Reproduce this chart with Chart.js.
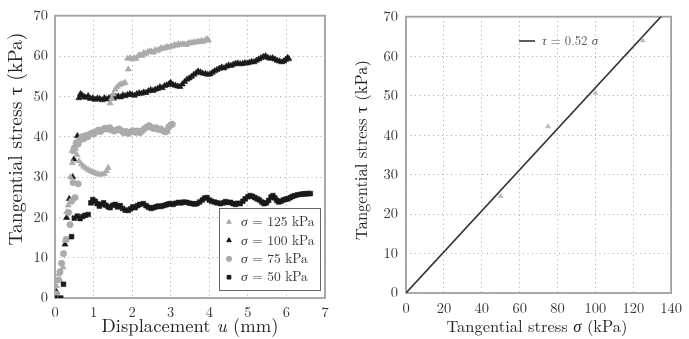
<!DOCTYPE html>
<html><head><meta charset="utf-8">
<script src="https://cdn.jsdelivr.net/npm/chart.js@4.4.0/dist/chart.umd.min.js"></script>
<style>html,body{margin:0;padding:0;background:#fff;width:689px;height:339px;overflow:hidden}
canvas{position:absolute;top:0}</style></head><body>
<canvas id="c1" width="345" height="339" style="left:0"></canvas>
<canvas id="c2" width="344" height="339" style="left:345px"></canvas>
<script>
// ---------------- DATA (left: tangential stress vs displacement) ----------------
const xTicksLeft = [0,1,2,3,4,5,6,7];
const yTicks = [0,10,20,30,40,50,60,70];
const xTicksRight = [0,20,40,60,80,100,120,140];

const s125 = [[0.0,0.3],[0.04,3],[0.1,6],[0.13,4.5],[0.21,7.6],[0.26,14.3],[0.3,21.3],[0.34,23],[0.4,30],[0.45,33.5],[0.44,36.5],[0.49,36.2],[0.53,37],[0.57,35.5],[0.62,34],[0.68,33.2],[0.74,32.6],[0.8,32.2],[0.86,31.8],[0.92,31.5],[0.98,31.2],[1.04,31],[1.1,30.8],[1.16,30.6],[1.22,30.7],[1.28,30.8],[1.34,31.5],[1.38,32.3],[1.43,48.3],[1.47,49.5],[1.51,50.5],[1.56,51.7],[1.61,52.3],[1.66,52.8],[1.71,53],[1.77,53.2],[1.82,53.4],[1.9,56.7],[1.88,59.4],[1.95,59.5],[2.0,59.2],[2.05,59.5],[2.1,59.3],[2.15,60],[2.2,60.3],[2.25,60.1],[2.3,60.8],[2.35,60.5],[2.4,61],[2.45,61.1],[2.5,61.2],[2.55,60.9],[2.6,61.5],[2.65,61.3],[2.7,61.6],[2.75,62.0],[2.8,61.8],[2.85,62.0],[2.9,62.3],[2.95,62.1],[3.0,62.4],[3.05,62.4],[3.1,62.8],[3.15,62.6],[3.2,63.0],[3.25,62.8],[3.3,63.0],[3.35,62.9],[3.4,62.8],[3.45,63.1],[3.5,63.3],[3.55,63.2],[3.6,63.4],[3.65,63.4],[3.7,63.6],[3.75,63.5],[3.8,63.8],[3.85,63.6],[3.9,64.0],[3.95,64.2],[3.98,63.9]];

const s100 = [[0.0,0.5],[0.04,1.5],[0.26,13.3],[0.3,19.9],[0.37,24.6],[0.46,30],[0.49,34.4],[0.58,40.2],[0.62,49.6],[0.66,50.6],[0.7,50.3],[0.75,49.9],[0.8,49.7],[0.86,50.1],[0.92,49.4],[0.98,49.6],[1.04,49.2],[1.1,49.5],[1.16,49.4],[1.22,49.1],[1.28,49.6],[1.34,49.3],[1.4,49.6],[1.46,49.8],[1.52,49.5],[1.58,49.9],[1.64,50.0],[1.7,49.8],[1.76,50.3],[1.82,50.1],[1.88,50.4],[1.94,50.6],[2.0,50.4],[2.06,50.2],[2.12,50.6],[2.18,50.8],[2.24,50.7],[2.3,51.0],[2.36,50.9],[2.42,51.3],[2.48,51.6],[2.54,51.4],[2.6,51.7],[2.66,51.9],[2.72,52.3],[2.78,52.1],[2.84,52.6],[2.9,52.8],[2.96,53.1],[3.0,53.4],[3.06,52.9],[3.12,52.7],[3.18,52.5],[3.24,52.4],[3.3,53.0],[3.36,53.6],[3.42,54.2],[3.48,54.5],[3.54,54.9],[3.6,55.4],[3.66,55.8],[3.71,56.2],[3.77,56.0],[3.83,55.7],[3.9,55.6],[3.96,55.4],[4.02,55.5],[4.08,55.9],[4.14,56.3],[4.2,56.6],[4.26,56.9],[4.32,57.2],[4.38,57.0],[4.44,57.4],[4.5,57.7],[4.56,57.6],[4.62,57.9],[4.68,58.1],[4.74,58.2],[4.8,58.0],[4.86,58.1],[4.92,58.3],[4.98,58.2],[5.04,58.4],[5.1,58.6],[5.16,58.5],[5.22,58.9],[5.28,59.2],[5.34,59.5],[5.4,59.8],[5.46,60.0],[5.52,59.6],[5.58,59.4],[5.64,59.5],[5.7,59.2],[5.76,58.9],[5.82,58.7],[5.88,58.5],[5.93,58.7],[5.98,59.1],[6.03,59.6],[6.06,59.3]];

const s75 = [[0.02,1],[0.08,4.5],[0.13,6.5],[0.17,8.6],[0.22,11],[0.29,14.5],[0.35,21.2],[0.39,18.2],[0.43,24],[0.47,28.6],[0.52,24.9],[0.6,28.3],[0.5,37.2],[0.55,38.5],[0.6,38.2],[0.65,39.2],[0.7,40.0],[0.75,39.5],[0.8,40.3],[0.85,40.0],[0.9,40.6],[0.96,40.9],[1.0,40.7],[1.06,41.2],[1.12,41.6],[1.18,41.3],[1.24,41.8],[1.3,42.1],[1.36,41.9],[1.42,42.2],[1.48,41.6],[1.54,41.4],[1.6,41.7],[1.66,41.9],[1.72,41.5],[1.78,41.0],[1.84,41.3],[1.9,40.8],[1.96,41.2],[2.02,41.5],[2.08,41.1],[2.14,41.4],[2.2,41.0],[2.26,41.5],[2.32,42.0],[2.38,42.4],[2.44,42.7],[2.5,42.3],[2.56,42.0],[2.62,42.2],[2.68,41.8],[2.74,41.9],[2.8,41.5],[2.86,41.2],[2.9,41.4],[2.95,42.4],[3.0,42.9],[3.04,43.1]];

const s50 = [[0.0,0],[0.15,0],[0.22,3.4],[0.43,15.2],[0.5,19.8],[0.58,20.3],[0.65,19.7],[0.72,20.2],[0.78,20.5],[0.86,20.7],[0.93,23.6],[0.98,24.4],[1.04,24],[1.09,23.4],[1.15,22.8],[1.2,23.2],[1.26,23.6],[1.32,23],[1.38,22.6],[1.43,22.4],[1.5,23],[1.56,23.2],[1.62,22.6],[1.69,22.9],[1.75,22.2],[1.82,21.8],[1.9,21.7],[1.96,22.1],[2.02,22.6],[2.08,22.4],[2.14,22.9],[2.2,23.2],[2.29,23.4],[2.36,22.9],[2.42,22.5],[2.49,22.2],[2.55,22.4],[2.62,22.6],[2.68,22.8],[2.75,22.7],[2.81,22.9],[2.88,23.1],[2.94,23.3],[2.99,23.4],[3.06,23.2],[3.13,23.5],[3.2,23.7],[3.27,23.6],[3.34,23.8],[3.42,23.7],[3.49,23.5],[3.56,23.4],[3.62,23.3],[3.68,23.4],[3.75,23.8],[3.82,24.3],[3.88,24.8],[3.94,24.9],[4.0,24.3],[4.06,24.0],[4.13,23.8],[4.2,23.6],[4.29,23.4],[4.36,23.6],[4.42,23.9],[4.49,23.7],[4.55,23.7],[4.62,23.4],[4.68,23.2],[4.74,23.5],[4.8,23.4],[4.87,24],[4.93,24.6],[5.0,25.1],[5.06,25.4],[5.12,25.2],[5.18,24.9],[5.24,24.6],[5.3,24.3],[5.36,23.8],[5.42,23.4],[5.48,23.6],[5.54,24.2],[5.6,25],[5.65,25.4],[5.7,24.8],[5.75,24.2],[5.8,23.8],[5.86,24.0],[5.92,24.3],[5.98,24.5],[6.04,24.6],[6.1,24.9],[6.16,25.2],[6.22,25.4],[6.29,25.6],[6.36,25.7],[6.43,25.8],[6.5,25.8],[6.56,25.9],[6.62,25.9]];

// ---------------- DATA (right: peak stress vs normal stress) ----------------
const normalStress = [50, 75, 100, 125];
const peakStress = [24.5, 42.2, 50.7, 64.0];
const fitSlope = 0.52;
const fitRange = [0, 140];

// ---------------- STYLE ----------------
const FONT = '"Latin Modern Roman", "Liberation Serif", serif';
const GRAY = '#ababab', BLACK = '#1a1a1a';
const toPts = a => a.map(p => ({x: p[0], y: p[1]}));

function drawRich(ctx, parts, x, y, opt) {
  const fam = FONT;
  let size = opt.size;
  const measure = s => parts.reduce((w, p) => { ctx.font = (p.it ? 'italic ' : '') + s + 'px ' + fam; return w + ctx.measureText(p.t).width; }, 0);
  if (opt.width) size = opt.size * opt.width / measure(opt.size);
  const w = measure(size);
  ctx.save();
  ctx.translate(x, y);
  if (opt.rotate) ctx.rotate(-Math.PI / 2);
  ctx.textBaseline = 'middle'; ctx.textAlign = 'left';
  ctx.fillStyle = opt.color || '#222';
  let cx = opt.align === 'left' ? 0 : -w / 2;
  for (const p of parts) {
    ctx.font = (p.it ? 'italic ' : '') + size + 'px ' + fam;
    ctx.fillText(p.t, cx, 0);
    cx += ctx.measureText(p.t).width;
  }
  ctx.restore();
}

function framePlugin(color) {
  return { id: 'frame', beforeDatasetsDraw(chart) {
    const a = chart.chartArea, ctx = chart.ctx;
    ctx.save(); ctx.strokeStyle = color; ctx.lineWidth = 1.8;
    ctx.strokeRect(a.left, a.top, a.right - a.left, a.bottom - a.top);
    ctx.restore();
  }};
}

function axisCfg(min, max, step, ticks, fitSize, isY, pad) {
  return {
    type: 'linear', min, max,
    afterBuildTicks: s => { s.ticks = ticks.map(v => ({value: v})); },
    afterFit: s => { if (isY) s.width = fitSize; else s.height = fitSize; },
    ticks: { stepSize: step, color: '#333', font: {family: FONT, size: 14.5}, padding: pad, maxRotation: 0 },
    grid: { color: '#a8a8a8', lineWidth: 1, drawTicks: false },
    border: { display: false, dash: [1, 3.5] },
    title: { display: false }
  };
}

// ---------------- LEFT CHART ----------------
const legendLeft = [
  {label: ' = 125 kPa', style: 'triangle', color: GRAY},
  {label: ' = 100 kPa', style: 'triangle', color: BLACK},
  {label: ' = 75 kPa', style: 'circle', color: GRAY},
  {label: ' = 50 kPa', style: 'rect', color: BLACK}
];

const leftText = { id: 'leftText', afterDraw(chart) {
  const ctx = chart.ctx, a = chart.chartArea;
  drawRich(ctx, [{t: 'Displacement '}, {t: 'u', it: true}, {t: ' (mm)'}], (a.left + a.right) / 2, 326, {size: 17, width: 177});
  drawRich(ctx, [{t: 'Tangential stress τ (kPa)'}], 16, 139, {size: 17, width: 213, rotate: true});
  // legend box
  const bx = 219, by = 208, bw = 101, bh = 82;
  ctx.save();
  ctx.fillStyle = '#fff'; ctx.fillRect(bx, by, bw, bh);
  ctx.strokeStyle = '#666'; ctx.lineWidth = 1; ctx.strokeRect(bx + 0.5, by + 0.5, bw, bh);
  legendLeft.forEach((e, i) => {
    const yy = 222 + i * 18.4;
    ctx.fillStyle = e.color; ctx.strokeStyle = e.color;
    Chart.helpers.drawPoint(ctx, {pointStyle: e.style, radius: 2.6, borderWidth: 1, rotation: 0}, 229, yy);
    ctx.fill();
    drawRich(ctx, [{t: 'σ', it: true}, {t: e.label}], 241, yy, {size: 13.5, align: 'left', color: '#333'});
  });
  ctx.restore();
}};

function ds(data, style, color, r) {
  return { data: toPts(data), showLine: false, pointStyle: style, pointRadius: r, pointHoverRadius: r,
    backgroundColor: color, borderColor: color, pointBorderWidth: 0.6 };
}

new Chart(document.getElementById('c1'), {
  type: 'scatter',
  data: { datasets: [ ds(s50, 'rect', BLACK, 3.3), ds(s75, 'circle', GRAY, 3.2), ds(s125, 'triangle', GRAY, 3.5), ds(s100, 'triangle', BLACK, 3.5) ] },
  options: {
    responsive: false, animation: false, events: [],
    layout: { padding: {left: 0, top: 14, right: 20, bottom: 0} },
    plugins: { legend: {display: false}, tooltip: {enabled: false} },
    scales: { x: axisCfg(0, 7, 1, xTicksLeft, 41, false, 6), y: axisCfg(0, 70, 10, yTicks, 55, true, 7) }
  },
  plugins: [framePlugin('#a0a0a0'), leftText]
});

// ---------------- RIGHT CHART ----------------
const rightText = { id: 'rightText', afterDraw(chart) {
  const ctx = chart.ctx;
  drawRich(ctx, [{t: 'Tangential stress '}, {t: 'σ', it: true}, {t: ' (kPa)'}], 537 - 345, 327, {size: 16, width: 181});
  drawRich(ctx, [{t: 'Tangential stress τ (kPa)'}], 362 - 345, 150, {size: 16, width: 180, rotate: true});
  ctx.save();
  ctx.strokeStyle = '#333'; ctx.lineWidth = 1.6;
  ctx.beginPath(); ctx.moveTo(519 - 345, 41); ctx.lineTo(535 - 345, 41); ctx.stroke();
  ctx.restore();
  drawRich(ctx, [{t: 'τ', it: true}, {t: ' = 0.52 '}, {t: 'σ', it: true}], 542 - 345, 41, {size: 14, width: 56, align: 'left', color: '#555'});
}};

new Chart(document.getElementById('c2'), {
  type: 'scatter',
  data: { datasets: [
    { data: normalStress.map((s, i) => ({x: s, y: peakStress[i]})), showLine: false, pointStyle: 'triangle',
      pointRadius: 3, backgroundColor: '#bdbdbd', borderColor: '#bdbdbd', pointBorderWidth: 0.5 },
    { type: 'line', data: fitRange.map(s => ({x: s, y: fitSlope * s})), borderColor: '#333', borderWidth: 1.6,
      pointRadius: 0, fill: false, clip: 0 }
  ] },
  options: {
    responsive: false, animation: false, events: [],
    layout: { padding: {left: 0, top: 9, right: 13, bottom: 0} },
    plugins: { legend: {display: false}, tooltip: {enabled: false} },
    scales: { x: axisCfg(0, 140, 20, xTicksRight, 46, false, 7), y: axisCfg(0, 70, 10, yTicks, 61, true, 8) }
  },
  plugins: [framePlugin('#a0a0a0'), rightText]
});
</script></body></html>
